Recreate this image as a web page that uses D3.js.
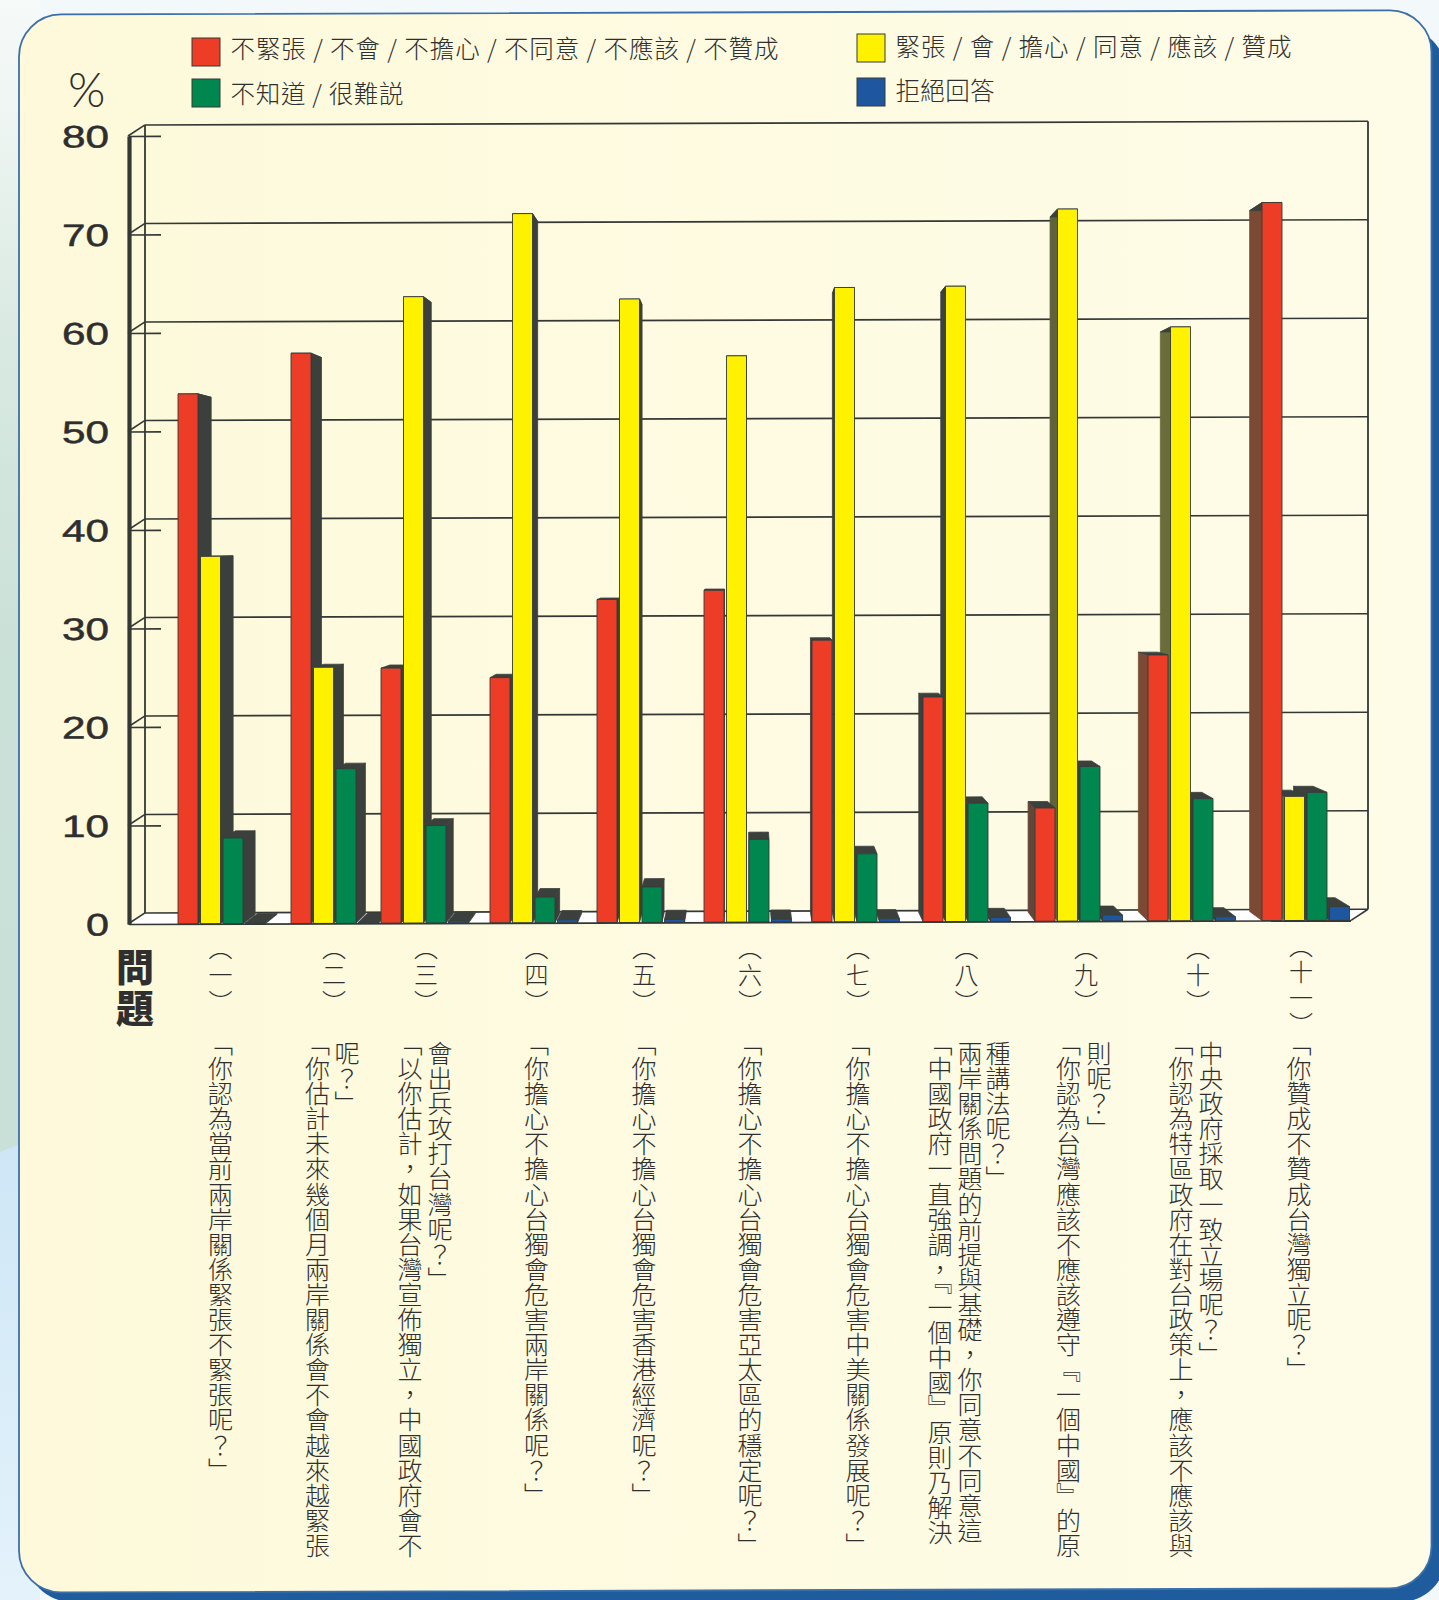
<!DOCTYPE html>
<html lang="zh-Hant"><head><meta charset="utf-8">
<script src="https://cdn.jsdelivr.net/npm/d3@7/dist/d3.min.js"></script>
<style>
html,body{margin:0;padding:0;background:#fff}
svg{display:block}
text{font-family:"Noto Sans CJK TC","Noto Sans CJK SC",sans-serif}
.v{writing-mode:vertical-rl;fill:#2f2f2f;font-weight:300}
</style></head><body>
<svg id="c" width="1439" height="1600"></svg>
<script>
// ---------- data ----------
const questions = ["（一）","（二）","（三）","（四）","（五）","（六）","（七）","（八）","（九）","（十）","（十一）"];
const seriesNames = ["不緊張 / 不會 / 不擔心 / 不同意 / 不應該 / 不贊成","緊張 / 會 / 擔心 / 同意 / 應該 / 贊成","不知道 / 很難説","拒絕回答"];
const disagree = [53.8,57.9,25.9,24.9,32.8,33.7,28.6,22.8,11.5,27.0,72.9];
const agree    = [37.3,26.0,63.6,72.0,63.3,57.5,64.4,64.5,72.3,60.3,12.6];
const unknown  = [8.7,15.7,9.9,2.6,3.6,8.4,6.9,12.0,15.7,12.4,13.0];
const refused  = [0.1,0.1,0.2,0.3,0.3,0.3,0.3,0.4,0.6,0.4,1.4];
const yTicks = [0,10,20,30,40,50,60,70,80];
const questionLines = [
 ["「你認為當前兩岸關係緊張不緊張呢？」"],
 ["「你估計未來幾個月兩岸關係會不會越來越緊張","呢？」"],
 ["「以你估計，如果台灣宣佈獨立，中國政府會不","會出兵攻打台灣呢？」"],
 ["「你擔心不擔心台獨會危害兩岸關係呢？」"],
 ["「你擔心不擔心台獨會危害香港經濟呢？」"],
 ["「你擔心不擔心台獨會危害亞太區的穩定呢？」"],
 ["「你擔心不擔心台獨會危害中美關係發展呢？」"],
 ["「中國政府一直強調，『一個中國』原則乃解決","兩岸關係問題的前提與基礎，你同意不同意這","種講法呢？」"],
 ["「你認為台灣應該不應該遵守『一個中國』的原","則呢？」"],
 ["「你認為特區政府在對台政策上，應該不應該與","中央政府採取一致立場呢？」"],
 ["「你贊成不贊成台灣獨立呢？」"]
];
const allSeries = [disagree,agree,unknown,refused];

// ---------- layout ----------
const W=1439,H=1600;
const groupLefts=[178,291,381,490,597,704,812,923,1035,1148,1262];
const labelCenters=[220.5,334,426,536.5,644,750,858,966.5,1086,1198,1301];
const lineCenters=[[220.5],[317.5,347],[410,440],[536.5],[644],[750],[858],[940,970,998],[1068.5,1099],[1181,1211],[1299]];
const seriesColors=["#ee3d27","#fff200","#00874f","#1f56a0"];
const leftSideTint=["#7b4a35","#6a6c3a","#3b403c","#3b403c"];
const dark="#3b403c", line="#333836";
const vp={x:747,y:540}, depth=0.024;
const svg=d3.select("#c");
const defs=svg.append("defs");
const bg=defs.append("linearGradient").attr("id","bg").attr("x1",0).attr("x2",0).attr("y1",0).attr("y2",1);
[[0,"#f6faf9"],[.1,"#eef5f2"],[.3,"#d8e9e1"],[.55,"#cbe1d8"],[1,"#c8e0d8"]].forEach(s=>bg.append("stop").attr("offset",s[0]).attr("stop-color",s[1]));
const bg2=defs.append("linearGradient").attr("id","bg2").attr("x1",0).attr("x2",0).attr("y1",0).attr("y2",1);
[[0,"#cde6f6"],[1,"#e4f2fb"]].forEach(s=>bg2.append("stop").attr("offset",s[0]).attr("stop-color",s[1]));
const pg=defs.append("linearGradient").attr("id","panel").attr("x1",0).attr("x2",1).attr("y1",0).attr("y2",0);
[[0,"#fdf9da"],[.5,"#fefbe2"],[1,"#fefce8"]].forEach(s=>pg.append("stop").attr("offset",s[0]).attr("stop-color",s[1]));
svg.append("rect").attr("width",W).attr("height",H).attr("fill","#f3f8fa");
svg.append("rect").attr("width",40).attr("height",1160).attr("fill","url(#bg)");
svg.append("path").attr("d",`M0,1152L40,1136V${H}H0Z`).attr("fill","url(#bg2)");
svg.append("rect").attr("x",26).attr("y",27).attr("width",1420).attr("height",1575).attr("rx",46).attr("fill","#1f5c9e");
const slope=0.003;
svg.append("rect").attr("x",19).attr("y",14.5).attr("width",1412.5).attr("height",1578).attr("rx",42)
   .attr("transform",`matrix(1,${-slope},0,1,0,${slope*19})`)
   .attr("fill","url(#panel)").attr("stroke","#3c6fa8").attr("stroke-width",1.8);

// scales
const y=d3.scaleLinear().domain([0,80]).range([924,136]);
const gx=d3.scaleOrdinal(questions).range(groupLefts);
const sx=d3.scaleBand().domain(d3.range(4)).range([0,87.5]).paddingInner(2.5/22.5);
const chart=svg.append("g").attr("transform",`matrix(1,${-slope},0,1,0,${slope*128})`);

// back wall + floor
const wall={dx:17,dy:-11,xl:128,xr:1351};
const yAxisX=wall.xl+1;
chart.append("path").attr("d",`M${wall.xl},${y(0)}L${wall.xl+wall.dx},${y(0)+wall.dy}L${wall.xr+wall.dx},${y(0)+wall.dy}L${wall.xr},${y(0)}Z`)
  .attr("fill","#fff");
const grid=chart.append("g").attr("stroke",line).attr("fill","none");
grid.selectAll("line.g").data(yTicks).join("line").attr("class","g")
  .attr("x1",wall.xl+wall.dx).attr("x2",wall.xr+wall.dx)
  .attr("y1",d=>y(d)+wall.dy).attr("y2",d=>y(d)+wall.dy).attr("stroke-width",1.6);
grid.selectAll("line.d").data(yTicks).join("line").attr("class","d")
  .attr("x1",wall.xl).attr("x2",wall.xl+wall.dx)
  .attr("y1",d=>y(d)).attr("y2",d=>y(d)+wall.dy).attr("stroke-width",1.6);
grid.append("line").attr("x1",wall.xl+wall.dx).attr("x2",wall.xl+wall.dx).attr("y1",y(80)+wall.dy).attr("y2",y(0)+wall.dy).attr("stroke-width",1.8);
grid.append("line").attr("x1",wall.xr+wall.dx).attr("x2",wall.xr+wall.dx).attr("y1",y(80)+wall.dy).attr("y2",y(0)+wall.dy).attr("stroke-width",1.8);
grid.append("line").attr("x1",wall.xr).attr("x2",wall.xr+wall.dx).attr("y1",y(0)).attr("y2",y(0)+wall.dy).attr("stroke-width",1.6);

// bars
const bars=[];
questions.forEach((q,i)=>allSeries.forEach((s,k)=>{
  const x0=gx(q)+sx(k); bars.push({x0,x1:x0+sx.bandwidth(),top:y(s[i]),base:y(0),k,v:s[i]});
}));
bars.sort((a,b)=>Math.abs((b.x0+b.x1)/2-vp.x)-Math.abs((a.x0+a.x1)/2-vp.x));
const back=(px,py)=>[px+(vp.x-px)*depth,py+(vp.y-py)*depth];
const poly=a=>"M"+a.map(p=>p.join(",")).join("L")+"Z";
const tint=d3.scaleLinear().domain([950,1100]).range([0,1]).clamp(true);
const barG=chart.append("g");
bars.forEach(b=>{
  const g=barG.append("g");
  const tl=[b.x0,b.top],tr=[b.x1,b.top],bl=[b.x0,b.base],br=[b.x1,b.base];
  const btl=back(...tl),btr=back(...tr),bbl=back(...bl),bbr=back(...br);
  const cx=(b.x0+b.x1)/2;
  if(cx<vp.x-6){
    g.append("path").attr("d",poly([tr,btr,bbr,br])).attr("fill",dark).attr("stroke",dark).attr("stroke-width",.8);
  } else if(cx>vp.x+6){
    const c=d3.interpolateRgb(dark,leftSideTint[b.k])(tint(cx));
    g.append("path").attr("d",poly([tl,btl,bbl,bl])).attr("fill",c).attr("stroke",c).attr("stroke-width",.8);
  }
  g.append("path").attr("d",poly([tl,btl,btr,tr])).attr("fill",dark).attr("stroke",dark).attr("stroke-width",.8);
  g.append("rect").attr("x",b.x0).attr("y",b.top).attr("width",b.x1-b.x0).attr("height",b.base-b.top)
    .attr("fill",seriesColors[b.k]).attr("stroke","#343a36").attr("stroke-width",.9);
});

// front axis
const axis=d3.axisLeft(y).tickValues(yTicks).tickSizeInner(-32).tickSizeOuter(0).tickPadding(20).tickFormat(d3.format("d"));
const ag=chart.append("g").attr("transform",`translate(${yAxisX},0)`).call(axis);
ag.select(".domain").attr("stroke",line).attr("stroke-width",4.2);
ag.selectAll(".tick line").attr("stroke",line).attr("stroke-width",1.6);
ag.selectAll(".tick").filter(d=>d===0).select("line").attr("x2",wall.xr-yAxisX);
ag.selectAll(".tick text")
  .style("font-family","'Liberation Sans',sans-serif").style("font-size","31px")
  .attr("dy","0.35em")
  .attr("fill","#2e2e2e").attr("stroke","#2e2e2e").attr("stroke-width",.5)
  .attr("textLength",d=>d===0?23:47).attr("lengthAdjust","spacingAndGlyphs");

// % unit
svg.append("text").attr("x",68).attr("y",107).text("%")
  .style("font-family","Lato,sans-serif").style("font-weight",300).style("font-size","48px").attr("fill","#2e2e2e");

// legend
const legend=[{k:0,x:192,y:38,ty:47.5,w:548},{k:1,x:857,y:34,ty:45,w:396},{k:2,x:192,y:79,ty:92.5,w:173},{k:3,x:857,y:78,ty:89.5,w:99}];
legend.forEach(l=>{
  svg.append("rect").attr("x",l.x).attr("y",l.y).attr("width",28).attr("height",28)
    .attr("fill",seriesColors[l.k]).attr("stroke","#343a36").attr("stroke-width",1);
  svg.append("text").attr("x",l.x+38.5).attr("y",l.ty).attr("dominant-baseline","central")
    .attr("textLength",l.w).attr("lengthAdjust","spacing")
    .style("font-size","24.5px").style("font-weight",300).attr("fill","#2f2f2f").text(seriesNames[l.k]);
});

// question number + text columns
svg.append("text").attr("class","v").attr("x",135).attr("y",948).text("問題")
  .style("font-size","38px").style("font-weight",900).style("letter-spacing","3px").attr("fill","#2a2a2a");
questions.forEach((q,i)=>{
  const long=q.length>3;
  svg.append("text").attr("class","v").attr("x",labelCenters[i]).attr("y",long?934:936).text(q)
    .style("font-size","24px").style("letter-spacing",long?"2px":"3px");
  questionLines[i].forEach((t,j)=>{
    svg.append("text").attr("class","v").attr("x",lineCenters[i][j]).attr("y",t[0]==="「"?1031:1041).text(t)
      .style("font-size","25px").style("letter-spacing",".1px");
  });
});
</script></body></html>
